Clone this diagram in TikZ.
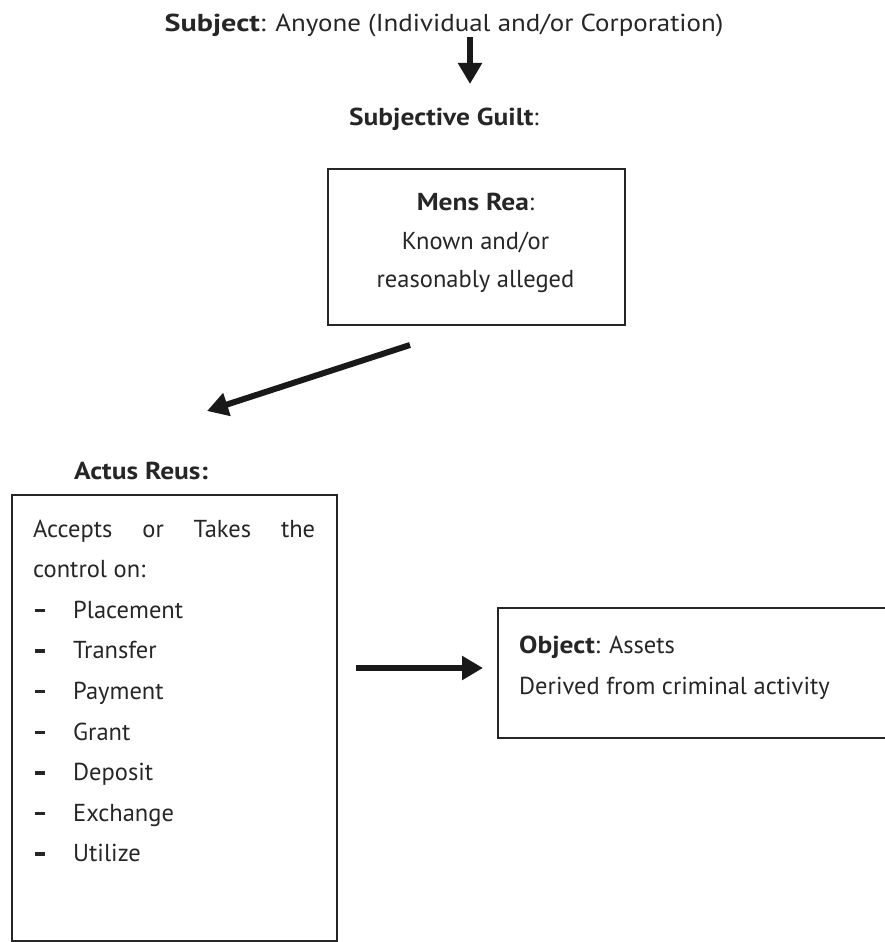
\documentclass[tikz,border=0pt]{standalone}
\usepackage{fontspec}
\usepackage{graphicx}
\setmainfont{PT Sans}[BoldFeatures={FakeStretch=1.12}]
\usetikzlibrary{arrows.meta}
\tikzset{
  boxst/.style={draw=black!85, line width=1.6pt, fill=none, inner sep=0pt},
  txt/.style={inner sep=0pt, font=\fontsize{24.5}{28}\selectfont, text=black!85},
  bigarrow/.style={line width=6pt, draw=black!90, -{Triangle[length=21pt,width=23pt]}},
}
\newcommand{\itemdash}{\makebox[40pt][l]{\hspace{2pt}\rule[6pt]{10pt}{3.4pt}}}
\begin{document}
\begin{tikzpicture}[x=1pt,y=-1pt]
\useasboundingbox (0,0) rectangle (885,942);
% top
\node[txt, anchor=base] (subject) at (444,32) {\scalebox{1.1}[1]{\textbf{Subject}: Anyone (Individual and/or Corporation)}};
\node[txt, anchor=base] (guilt) at (444,125) {\textbf{Subjective Guilt}:};
\coordinate (a1s) at (470,37);
\coordinate (a1e) at (470,84);
\draw[bigarrow] (a1s) -- (a1e);
% mens rea
\node[boxst, minimum width=297pt, minimum height=156pt, anchor=north west] (mens) at (327,168) {};
\node[txt, anchor=base] (mens1) at (475.5,210) {\textbf{Mens Rea}:};
\node[txt, anchor=base] (mens2) at (475.5,249) {Known and/or};
\node[txt, anchor=base] (mens3) at (475.5,287) {reasonably alleged};
\coordinate (a2s) at (410,345);
\coordinate (a2e) at (207,411);
\draw[bigarrow] (a2s) -- (a2e);
% actus reus
\node[txt, anchor=base west] (actustitle) at (74,479) {\textbf{Actus Reus:}};
\node[boxst, minimum width=325pt, minimum height=446pt, anchor=north west] (actus) at (11,494) {};
\node[txt, anchor=base west] (l1) at (33,537) {\makebox[282pt][s]{Accepts or Takes the}};
\node[txt, anchor=base west] (l2) at (33,577.6) {control on:};
\foreach \t [count=\i] in {Placement,Transfer,Payment,Grant,Deposit,Exchange,Utilize}{
  \node[txt, anchor=base west] (item\i) at (33,{577.6+40.6*\i}) {\itemdash\t};
}
% object
\coordinate (a3s) at (356,668);
\coordinate (a3e) at (483,668);
\draw[bigarrow] (a3s) -- (a3e);
\node[boxst, minimum width=400pt, minimum height=130pt, anchor=north west] (object) at (497,607) {};
\node[txt, anchor=base west] (obj1) at (519,653) {\textbf{Object}: Assets};
\node[txt, anchor=base west] (obj2) at (519,694) {Derived from criminal activity};
\end{tikzpicture}
\end{document}
